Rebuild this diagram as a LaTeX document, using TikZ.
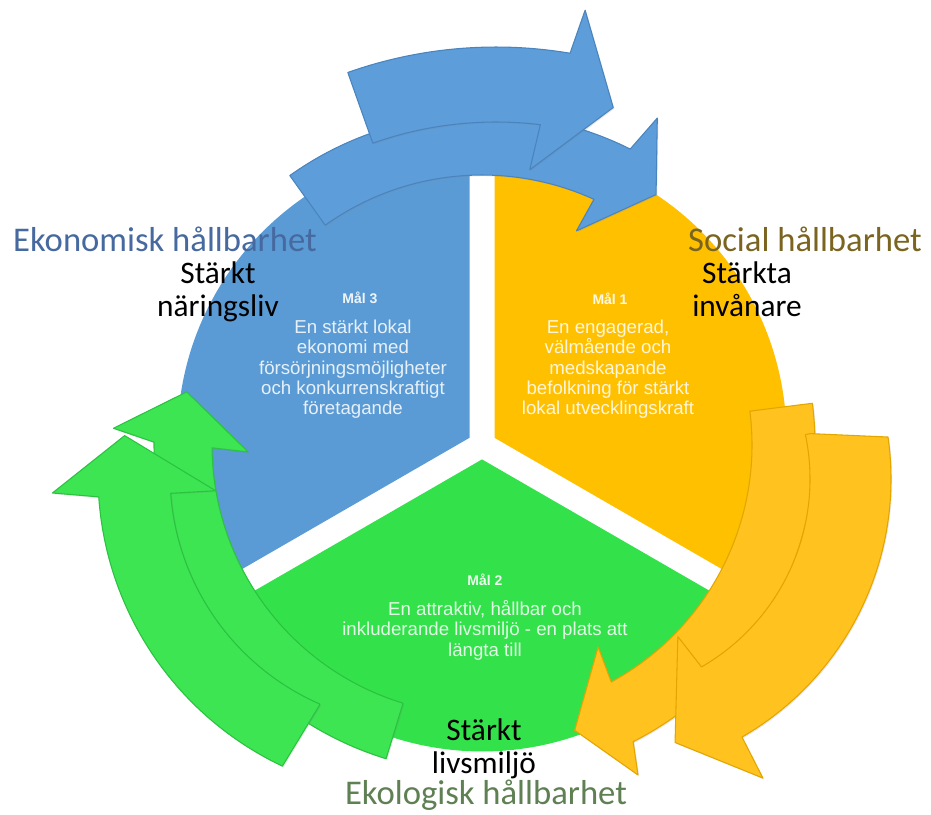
\documentclass[tikz,border=0pt]{standalone}
\usepackage{fontspec}
\usetikzlibrary{shadows}
\setmainfont{Carlito}
\newfontfamily\arialf{Liberation Sans}
\definecolor{bluesec}{HTML}{5B9BD5}
\definecolor{bluearr}{HTML}{5D9DDA}
\definecolor{blueedge}{HTML}{4A84BE}
\definecolor{orangesec}{HTML}{FFC000}
\definecolor{orangearr}{HTML}{FFC21E}
\definecolor{orangeedge}{HTML}{E2A600}
\definecolor{greensec}{HTML}{33E14B}
\definecolor{greenarr}{HTML}{3DE553}
\definecolor{greenedge}{HTML}{2BC23F}
\definecolor{ekoncol}{HTML}{46699F}
\definecolor{soccol}{HTML}{7A6420}
\definecolor{ekolcol}{HTML}{5E8052}
\tikzset{
  biglabel/.style={font=\fontsize{26}{28}\selectfont, anchor=base, inner sep=0pt},
  sublabel/.style={font=\fontsize{23.5}{24.5}\selectfont, align=center, anchor=base, inner sep=0pt, text=black},
  goaltitle/.style={font=\arialf\bfseries\fontsize{10.5}{12}\selectfont, text=white, text opacity=0.9, anchor=base, inner sep=0pt},
  goaltext/.style={font=\arialf\fontsize{14}{15.3}\selectfont, text=white, text opacity=0.85, align=center, anchor=north, inner sep=0pt},
  arrowshade/.style={drop shadow={opacity=0.18, shadow xshift=0.9pt, shadow yshift=-0.9pt}},
  barrow/.style={arrowshade, fill=bluearr, draw=blueedge, line width=0.8pt, line join=round},
  oarrow/.style={arrowshade, fill=orangearr, draw=orangeedge, line width=0.8pt, line join=round},
  garrow/.style={arrowshade, fill=greenarr, draw=greenedge, line width=0.8pt, line join=round},
}
\begin{document}
\begin{tikzpicture}[x=0.75pt,y=-0.75pt]
\useasboundingbox (0,0) rectangle (931,814);
% pie sectors (exploded)
\fill[bluesec] (469.5,437.8) -- +(-90:292) arc[start angle=-90,end angle=-210,radius=292] -- cycle;
\fill[orangesec] (494.5,437.8) -- +(30:292) arc[start angle=30,end angle=-90,radius=292] -- cycle;
\fill[greensec] (482,459.4) -- +(-210:292) arc[start angle=-210,end angle=-330,radius=292] -- cycle;
% blue arrows
\begin{scope}[shift={(482,445)}]
\filldraw[barrow] (-125.5:270) -- (-125.5:331) arc[start angle=-125.5,end angle=-63.4,radius=331]
  -- (-61.8:371) -- (-55.2:305) -- (-66.2:234) -- (-65.5:270)
  arc[start angle=-65.5,end angle=-125.5,radius=270] -- cycle;
\end{scope}
\begin{scope}[shift={(496,491)}]
\filldraw[barrow] (-109.5:369) -- (-109.5:444) arc[start angle=-109.5,end angle=-80.4,radius=444]
  -- (-79.5:489) -- (-73:401) -- (-84:323) -- (-83.1:369)
  arc[start angle=-83.1,end angle=-109.5,radius=369] -- cycle;
\end{scope}
% orange arrows
\begin{scope}[shift={(482,445)}]
\filldraw[oarrow] (-7.2:270) -- (-7.2:333) arc[start angle=-7.2,end angle=63,radius=333]
  -- (64.7:365) -- (72:300) -- (60.1:233) -- (61.4:270)
  arc[start angle=61.4,end angle=-7.2,radius=270] -- cycle;
\end{scope}
\begin{scope}[shift={(593,479)}]
\filldraw[oarrow] (-11.8:222) -- (-8.1:298) arc[start angle=-8.1,end angle=60,radius=298]
  -- (60.4:344) -- (72.7:276) -- (61.7:179) -- (60:217)
  arc[start angle=60,end angle=-11.8,radius=217] -- cycle;
\end{scope}
% green arrows
\begin{scope}[shift={(482,445)}]
\filldraw[garrow] (-253:270) -- (-253:328) arc[start angle=-253,end angle=-179.5,radius=328]
  -- (-177.4:369) -- (-169.8:300) -- (-181.7:234) -- (-180.6:270)
  arc[start angle=-180.6,end angle=-253,radius=270] -- cycle;
\end{scope}
\begin{scope}[shift={(420,475)}]
\filldraw[garrow] (-246.4:252) -- (-244.7:322) arc[start angle=-244.7,end angle=-183.9,radius=322]
  -- (-182.8:368) -- (-172.4:298) -- (-184.4:205) -- (-184.2:250)
  arc[start angle=-184.2,end angle=-246.4,radius=250] -- cycle;
\end{scope}
% goal texts
\node[goaltitle] (m3) at (360,303) {Mål 3};
\node[goaltext] (t3) at (353,319.5) {En stärkt lokal\\ekonomi med\\försörjningsmöjligheter\\och konkurrenskraftigt\\företagande};
\node[goaltitle] (m1) at (610,304) {Mål 1};
\node[goaltext] (t1) at (608,319.5) {En engagerad,\\välmående och\\medskapande\\befolkning för stärkt\\lokal utvecklingskraft};
\node[goaltitle] (m2) at (485,585) {Mål 2};
\node[goaltext] (t2) at (485,600) {En attraktiv, hållbar och\\inkluderande livsmiljö - en plats att\\längta till};
% labels
\node[biglabel, text=ekoncol] (ekon) at (165,251) {Ekonomisk hållbarhet};
\node[sublabel] (ek) at (218,316) {Stärkt\\näringsliv};
\node[biglabel, text=soccol] (soc) at (805,251) {Social hållbarhet};
\node[sublabel] (so) at (747,316.5) {Stärkta\\invånare};
\node[sublabel] (el) at (484,773) {Stärkt\\livsmiljö};
\node[biglabel, text=ekolcol] (ekol) at (486,804) {Ekologisk hållbarhet};
\end{tikzpicture}
\end{document}
